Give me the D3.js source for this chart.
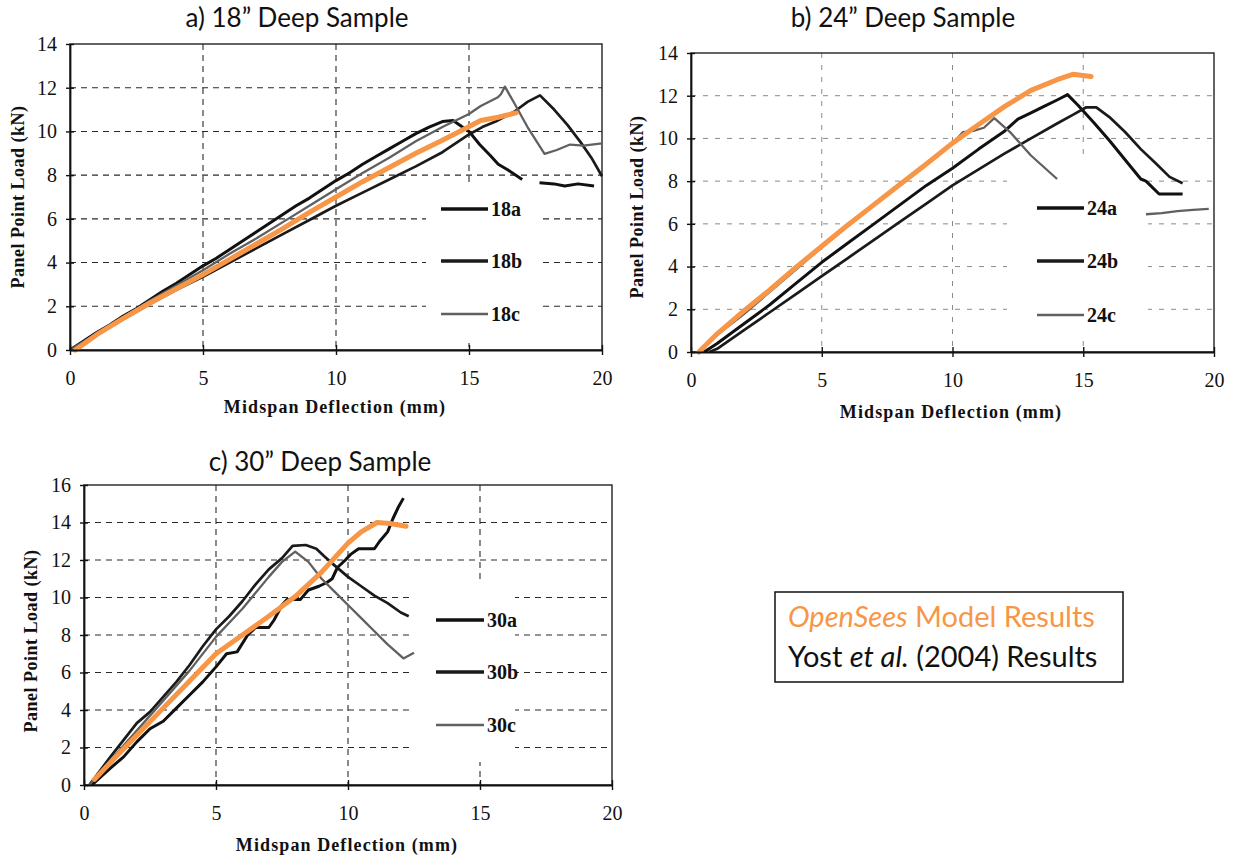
<!DOCTYPE html>
<html>
<head>
<meta charset="utf-8">
<script src="https://cdn.jsdelivr.net/npm/d3@7"></script>
<style>
  body { margin: 0; background: #fff; }
  svg { display: block; }
</style>
</head>
<body>
<svg id="chart" width="1233" height="863"></svg>
<script>
// ---------------- data ----------------
const xTickValues = [0, 5, 10, 15, 20];
const yTicks18 = [0, 2, 4, 6, 8, 10, 12, 14];
const yTicks24 = [0, 2, 4, 6, 8, 10, 12, 14];
const yTicks30 = [0, 2, 4, 6, 8, 10, 12, 14, 16];

const titles = ["a) 18\u201D Deep Sample", "b) 24\u201D Deep Sample", "c) 30\u201D Deep Sample"];
const labels18 = ["18a", "18b", "18c"];
const labels24 = ["24a", "24b", "24c"];
const labels30 = ["30a", "30b", "30c"];
const xAxisTitle = "Midspan Deflection (mm)";
const yAxisTitle = "Panel Point Load (kN)";

// 18" deep sample, test curves [deflection mm, load kN]; null = gap in record
const test18a = [[0,0],[0.5,0.4],[1,0.8],[1.5,1.15],[2,1.55],[2.5,1.9],[3,2.3],[3.5,2.7],[4,3.05],[4.5,3.45],[5,3.85],[5.5,4.2],[6,4.6],[6.5,5.0],[7,5.4],[7.5,5.8],[8,6.2],[8.5,6.6],[9,6.95],[9.5,7.35],[10,7.75],[10.5,8.1],[11,8.5],[11.5,8.85],[12,9.2],[12.5,9.55],[13,9.9],[13.5,10.2],[14,10.45],[14.4,10.5],[15,10.0],[15.4,9.4],[15.8,8.9],[16.1,8.5],[16.45,8.25],[17,7.8],null,[17.65,7.65],[18.2,7.6],[18.6,7.5],[19.1,7.6],[19.7,7.5]];
const test18b = [[0,0],[1,0.7],[2,1.4],[3,2.1],[4,2.75],[5,3.35],[6,4.0],[7,4.65],[8,5.3],[9,5.95],[10,6.6],[11,7.2],[12,7.8],[13,8.4],[14,9.05],[15,9.86],[15.5,10.2],[16,10.45],[16.7,10.9],[17.2,11.35],[17.67,11.65],[18.2,11.0],[18.7,10.3],[19.2,9.5],[19.6,8.8],[20,7.95]];
const test18c = [[0,0],[1,0.75],[2,1.5],[3,2.25],[4,2.95],[5,3.65],[6,4.4],[7,5.1],[8,5.85],[9,6.6],[10,7.35],[11,8.1],[12,8.8],[13,9.55],[14,10.2],[14.5,10.5],[15,10.8],[15.44,11.16],[16.07,11.55],[16.2,11.7],[16.35,12.05],[16.7,11.3],[17.2,10.2],[17.84,8.97],[18.3,9.15],[18.8,9.4],[19.3,9.35],[20,9.45]];
const model18 = [[0.2,0],[1,0.7],[2,1.45],[3,2.15],[4,2.8],[5,3.45],[6,4.15],[7,4.85],[8,5.55],[9,6.3],[10,7.0],[11,7.7],[12,8.35],[13,9.0],[14,9.6],[14.9,10.16],[15.44,10.5],[16.1,10.65],[16.77,10.85]];

// 24" deep sample
const test24a = [[0.5,0],[1,0.4],[2,1.3],[3,2.2],[4,3.2],[5,4.2],[6,5.1],[7,6.0],[8,6.9],[9,7.8],[10,8.6],[11,9.5],[12,10.35],[12.5,10.9],[13,11.2],[13.5,11.5],[14,11.8],[14.4,12.05],[14.8,11.55],[15.4,10.75],[16,9.9],[16.7,8.85],[17.2,8.1],[17.4,8.0],[17.9,7.4],[18.3,7.4],[18.8,7.4]];
const test24b = [[0.7,0],[1,0.15],[2,1.0],[3,1.85],[4,2.7],[5,3.55],[6,4.4],[7,5.25],[8,6.1],[9,6.95],[10,7.8],[11,8.55],[12,9.3],[13,10.0],[14,10.7],[14.6,11.1],[15.1,11.45],[15.5,11.45],[16,11.0],[16.6,10.3],[17.2,9.5],[17.8,8.8],[18.3,8.2],[18.8,7.9]];
const test24c = [[0.3,0],[1,0.8],[2,1.75],[3,2.8],[4,3.85],[5,4.9],[6,5.9],[7,6.95],[8,7.9],[9,8.8],[10,9.75],[10.4,10.3],[10.8,10.35],[11.2,10.5],[11.6,10.95],[12.2,10.3],[13,9.2],[14,8.1],null,[17.4,6.45],[18,6.5],[18.6,6.6],[19.2,6.65],[19.8,6.7]];
const model24 = [[0.3,0],[1,0.85],[2,1.9],[3,2.9],[4,3.95],[5,4.95],[6,5.95],[7,6.9],[8,7.85],[9,8.8],[10,9.78],[11,10.65],[12,11.5],[13,12.25],[14,12.75],[14.6,13.0],[15.3,12.9]];

// 30" deep sample
const test30a = [[0.3,0],[1,0.9],[1.5,1.5],[2,2.3],[2.5,3.0],[3,3.4],[3.5,4.1],[4,4.8],[4.5,5.5],[5,6.3],[5.4,7.0],[5.8,7.1],[6.2,8.0],[6.5,8.4],[7,8.4],[7.2,8.8],[7.5,9.6],[7.7,9.9],[8.2,9.9],[8.5,10.4],[8.9,10.6],[9.2,10.8],[9.4,11.0],[9.6,11.6],[9.9,12.0],[10.1,12.3],[10.4,12.6],[11,12.6],[11.2,13.0],[11.5,13.5],[11.7,14.2],[11.9,14.8],[12.1,15.3]];
const test30b = [[0.2,0],[1,1.5],[2,3.3],[2.5,3.9],[3,4.7],[3.5,5.5],[4,6.4],[4.5,7.4],[5,8.3],[5.5,9.0],[6,9.8],[6.5,10.7],[7,11.5],[7.5,12.1],[7.9,12.75],[8.4,12.8],[8.8,12.6],[9.1,12.2],[9.5,11.7],[10,11.1],[10.5,10.6],[11,10.1],[11.5,9.7],[12,9.2],[12.3,9.0]];
const test30c = [[0.2,0],[1,1.3],[2,2.9],[3,4.5],[4,6.1],[5,7.9],[6,9.4],[7,11.1],[7.5,11.9],[8,12.45],[8.5,11.9],[9,11.0],[9.5,10.3],[10,9.6],[10.5,8.9],[11,8.2],[11.5,7.5],[12.1,6.75],[12.5,7.05]];
const model30 = [[0.4,0.3],[1,1.2],[2,2.65],[3,4.1],[4,5.55],[5,7.0],[6,8.0],[7,9.0],[8,10.05],[9,11.35],[10,12.9],[10.5,13.5],[11.1,14.0],[11.6,13.95],[12.2,13.8]];

// ---------------- layout ----------------
const panels = [
  { title: titles[0], titleX: 297, titleY: 27,
    x0: 70, x1: 602, y0: 350, y1: 44, yMax: 14, yTicks: yTicks18,
    tests: [test18a, test18b, test18c], labels: labels18, model: model18,
    grid: { color: "#2a2a2a", dash: "6,5", width: 1.1 },
    box: [426, 182, 541, 343], legX: [441, 488], legY: [209, 261, 314],
    xTitle: [335, 413], yTitle: [18, 197] },
  { title: titles[1], titleX: 903, titleY: 27,
    x0: 691, x1: 1214, y0: 352, y1: 53, yMax: 14, yTicks: yTicks24,
    tests: [test24a, test24b, test24c], labels: labels24, model: model24,
    grid: { color: "#8a8a8a", dash: "5,7", width: 1 },
    box: [1007, 160, 1148, 340], legX: [1037, 1084], legY: [208, 261, 315],
    xTitle: [951, 418], yTitle: [637, 207] },
  { title: titles[2], titleX: 320, titleY: 471,
    x0: 84, x1: 612, y0: 785, y1: 485, yMax: 16, yTicks: yTicks30,
    tests: [test30a, test30b, test30c], labels: labels30, model: model30,
    grid: { color: "#2a2a2a", dash: "6,5", width: 1.1 },
    box: [414, 580, 515, 762], legX: [436, 484], legY: [620, 672, 725],
    xTitle: [347, 851], yTitle: [31, 641] }
];

const seriesStyle = [
  { stroke: "#111", width: 3.0 },
  { stroke: "#1a1a1a", width: 2.7 },
  { stroke: "#606060", width: 2.3 }
];
const modelColor = "#F79646";
const serif = "'Liberation Serif', 'Times New Roman', serif";
const sans = "Lato, 'Open Sans', sans-serif";

const svg = d3.select("#chart");

panels.forEach(p => {
  const x = d3.scaleLinear().domain([0, 20]).range([p.x0, p.x1]);
  const y = d3.scaleLinear().domain([0, p.yMax]).range([p.y0, p.y1]);
  const g = svg.append("g");

  // gridlines
  const grid = g.append("g")
    .attr("stroke", p.grid.color).attr("stroke-width", p.grid.width)
    .attr("stroke-dasharray", p.grid.dash).attr("fill", "none");
  grid.selectAll("line.h").data(p.yTicks.filter(v => v > 0 && v < p.yMax)).join("line")
    .attr("class", "h")
    .attr("x1", p.x0).attr("x2", p.x1)
    .attr("y1", d => y(d)).attr("y2", d => y(d));
  grid.selectAll("line.v").data(xTickValues.filter(v => v > 0 && v < 20)).join("line")
    .attr("class", "v")
    .attr("x1", d => x(d)).attr("x2", d => x(d))
    .attr("y1", p.y1).attr("y2", p.y0);

  // legend backdrop hides the grid
  g.append("rect")
    .attr("x", p.box[0]).attr("y", p.box[1])
    .attr("width", p.box[2] - p.box[0]).attr("height", p.box[3] - p.box[1])
    .attr("fill", "#fff");

  // plot frame
  g.append("rect")
    .attr("x", p.x0).attr("y", p.y1)
    .attr("width", p.x1 - p.x0).attr("height", p.y0 - p.y1)
    .attr("fill", "none").attr("stroke", "#222").attr("stroke-width", 1.4);

  const line = d3.line()
    .defined(d => d !== null)
    .x(d => x(d[0])).y(d => y(d[1]));

  // test curves
  p.tests.forEach((s, i) => {
    g.append("path").datum(s)
      .attr("d", line)
      .attr("fill", "none")
      .attr("stroke", seriesStyle[i].stroke)
      .attr("stroke-width", seriesStyle[i].width)
      .attr("stroke-linejoin", "round");
  });

  // model curve
  g.append("path").datum(p.model)
    .attr("d", line)
    .attr("fill", "none")
    .attr("stroke", modelColor)
    .attr("stroke-width", 5)
    .attr("stroke-linecap", "round")
    .attr("stroke-linejoin", "round");

  // axes
  const yAxis = g.append("g")
    .attr("transform", `translate(${p.x0},0)`)
    .call(d3.axisLeft(y).tickValues(p.yTicks).tickSize(4).tickSizeOuter(0).tickPadding(9));
  yAxis.select(".domain").attr("stroke", "#111").attr("stroke-width", 1.8);
  yAxis.selectAll(".tick line").attr("x1", -4).attr("x2", 4).attr("stroke", "#111").attr("stroke-width", 1.4);
  yAxis.selectAll(".tick text")
    .attr("font-family", serif).attr("font-size", 20).attr("fill", "#111");

  const xAxis = g.append("g")
    .attr("transform", `translate(0,${p.y0})`)
    .call(d3.axisBottom(x).tickValues(xTickValues).tickSize(4).tickSizeOuter(0).tickPadding(17));
  xAxis.select(".domain").attr("stroke", "#111").attr("stroke-width", 1.8);
  xAxis.selectAll(".tick line").attr("y1", -5).attr("y2", 5).attr("stroke", "#111").attr("stroke-width", 1.4);
  xAxis.selectAll(".tick text")
    .attr("font-family", serif).attr("font-size", 20).attr("fill", "#111");

  // axis titles
  g.append("text")
    .attr("x", p.xTitle[0]).attr("y", p.xTitle[1])
    .attr("text-anchor", "middle")
    .attr("font-family", serif).attr("font-weight", "bold").attr("font-size", 18)
    .attr("letter-spacing", 1.1).attr("fill", "#111")
    .text(xAxisTitle);
  g.append("text")
    .attr("transform", `translate(${p.yTitle[0] + 6},${p.yTitle[1]}) rotate(-90)`)
    .attr("text-anchor", "middle")
    .attr("font-family", serif).attr("font-weight", "bold").attr("font-size", 18)
    .attr("letter-spacing", 0.5).attr("fill", "#111")
    .text(yAxisTitle);

  // panel title
  g.append("text")
    .attr("x", p.titleX).attr("y", p.titleY)
    .attr("text-anchor", "middle")
    .attr("font-family", sans).attr("font-size", 26).attr("fill", "#111")
    .text(p.title);

  // in-plot legend
  p.labels.forEach((lab, i) => {
    g.append("line")
      .attr("x1", p.legX[0]).attr("x2", p.legX[1])
      .attr("y1", p.legY[i]).attr("y2", p.legY[i])
      .attr("stroke", seriesStyle[i].stroke)
      .attr("stroke-width", i === 2 ? 2.6 : 3.4);
    g.append("text")
      .attr("x", p.legX[1] + 3).attr("y", p.legY[i] + 7)
      .attr("font-family", serif).attr("font-weight", "bold").attr("font-size", 20)
      .attr("fill", "#111")
      .text(lab);
  });
});

// overall key
const key = svg.append("g");
key.append("rect")
  .attr("x", 775).attr("y", 592).attr("width", 348).attr("height", 90)
  .attr("fill", "#fff").attr("stroke", "#111").attr("stroke-width", 1.5);
const k1 = key.append("text")
  .attr("x", 788).attr("y", 627)
  .attr("font-family", sans).attr("font-size", 29).attr("fill", modelColor);
k1.append("tspan").attr("font-style", "italic").text("OpenSees");
k1.append("tspan").text(" Model Results");
const k2 = key.append("text")
  .attr("x", 788).attr("y", 667)
  .attr("font-family", sans).attr("font-size", 29).attr("fill", "#111");
k2.append("tspan").text("Yost ");
k2.append("tspan").attr("font-style", "italic").text("et al.");
k2.append("tspan").text(" (2004) Results");
</script>
</body>
</html>
